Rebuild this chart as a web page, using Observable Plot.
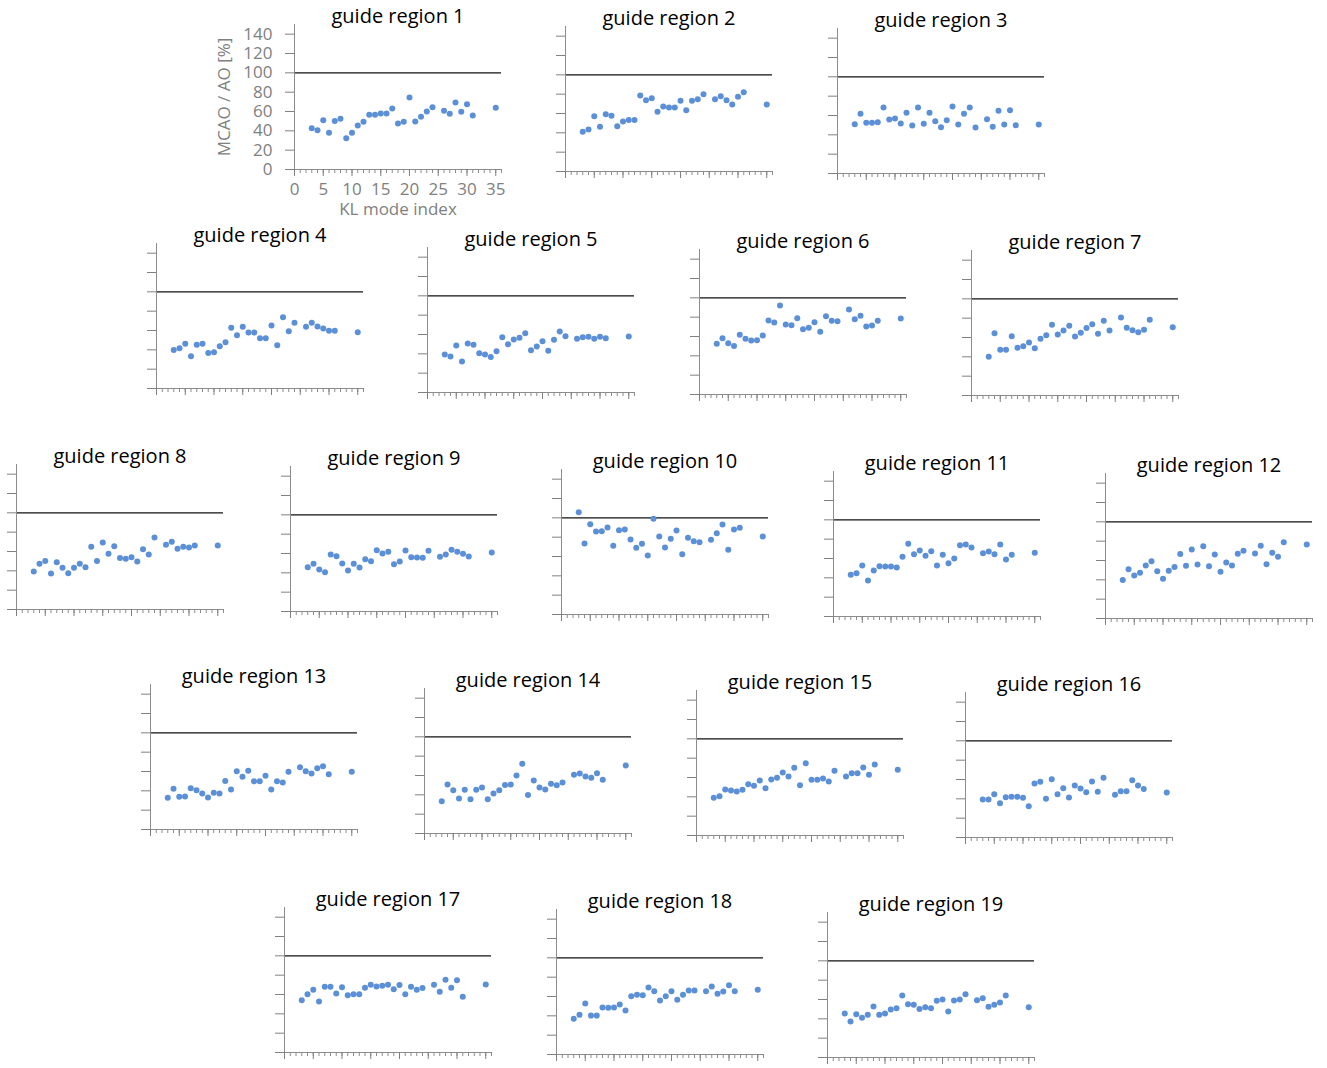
<!DOCTYPE html>
<html><head><meta charset="utf-8">
<script src="https://cdn.jsdelivr.net/npm/d3@7"></script>
<script src="https://cdn.jsdelivr.net/npm/@observablehq/plot@0.6"></script>
<style>
html,body{margin:0;padding:0;background:#fff;}
#root{position:relative;width:1327px;height:1068px;overflow:hidden;font-family:"Open Sans",sans-serif;}
.panel{position:absolute;}
</style></head><body><div id="root"></div>
<script>
// KL mode indices (shared by all guide regions)
const modes = [3,4,5,6,7,8,9,10,11,12,13,14,15,16,17,18,19,20,21,22,23,24,26,27,28,29,30,31,35];

// MCAO / AO [%] per guide region
const region1  = [42.8,40.7,51.0,37.9,50.3,52.4,32.4,37.9,45.5,49.3,56.6,56.6,57.9,57.9,63.1,47.6,49.3,74.5,49.7,54.5,60.0,64.5,60.7,57.6,69.3,59.7,67.6,55.9,63.8];
const region2  = [41.0,43.4,57.2,46.2,59.3,57.6,46.9,51.7,53.4,53.4,78.6,73.8,75.9,61.7,67.2,66.2,66.2,73.1,63.4,73.1,74.8,80.0,74.8,77.9,73.8,69.3,77.2,82.1,69.3];
const region3  = [51.0,61.7,52.4,52.4,53.1,68.3,55.9,56.9,51.7,62.8,49.7,68.3,51.4,62.8,54.1,47.9,55.2,69.3,50.7,61.7,68.3,47.6,56.2,48.3,64.8,50.7,65.5,50.0,50.7];
const region4  = [39.7,41.7,46.2,33.4,45.2,46.2,36.6,37.6,43.8,47.9,62.8,55.2,63.8,57.9,57.9,52.1,52.1,65.2,44.8,73.8,59.3,67.9,63.8,67.9,64.1,62.1,59.7,59.7,58.3];
const region5  = [39.3,37.2,48.6,32.1,50.7,49.3,40.7,39.3,36.6,42.8,57.2,50.0,54.8,56.6,61.4,43.8,47.6,53.1,43.1,54.5,63.1,58.3,55.5,57.2,57.6,55.5,57.6,56.2,57.9];
const region6  = [52.4,58.3,53.1,50.3,61.7,57.6,55.9,56.2,61.0,76.6,74.5,92.1,72.4,71.7,79.0,67.6,69.0,74.8,64.8,81.0,76.2,75.9,87.9,77.9,81.4,70.3,71.4,76.2,78.6];
const region7  = [40.0,64.5,47.2,47.2,61.4,49.3,51.0,54.8,49.0,58.6,62.4,73.1,63.1,67.2,72.1,61.0,64.8,69.7,73.8,63.8,77.2,67.2,80.7,70.0,67.6,65.5,67.9,78.3,70.7];
const region8  = [39.3,47.2,50.3,37.2,49.0,43.1,37.6,43.1,47.2,43.8,64.8,50.3,69.3,57.6,65.5,53.4,52.4,54.1,49.7,62.4,56.9,74.5,66.9,70.0,62.8,64.8,64.1,66.2,66.2];
const region9  = [45.9,49.3,43.4,40.7,59.0,57.2,49.7,42.4,49.3,45.5,54.1,52.1,63.4,60.0,61.7,49.0,51.7,63.1,56.2,55.9,55.5,62.8,56.6,59.0,63.8,61.7,59.7,56.9,61.0];
const region10 = [105.9,73.4,93.4,85.9,86.2,90.0,71.0,87.2,87.9,77.6,69.0,73.1,61.0,99.0,80.7,69.3,78.3,86.9,62.4,79.3,75.9,74.8,77.2,84.1,93.1,66.9,87.9,89.7,80.7];
const region11 = [43.1,44.8,52.8,37.2,47.6,52.1,51.7,51.7,50.7,61.7,75.2,64.5,68.3,62.8,67.6,52.8,63.8,55.2,60.0,73.8,74.5,71.4,65.5,67.2,64.5,74.5,59.0,63.8,65.9];
const region12 = [39.7,51.0,44.5,47.2,54.8,59.3,48.9,41.0,49.3,53.4,66.6,54.5,71.4,55.9,74.8,54.1,66.2,48.3,57.9,54.8,66.9,70.0,67.2,75.2,56.2,67.9,63.8,79.0,76.6];
const region13 = [32.8,42.1,33.8,34.1,42.8,40.7,37.2,33.1,37.9,37.2,50.3,41.4,60.3,54.5,60.7,50.0,50.0,55.5,41.4,50.0,48.6,59.7,64.5,60.3,57.9,63.4,65.5,57.2,59.7];
const region14 = [33.4,50.7,44.8,36.2,45.2,35.5,45.2,47.6,35.5,41.4,44.8,50.3,50.7,60.0,72.1,39.7,54.8,47.6,45.5,51.4,50.0,52.8,60.7,62.1,59.0,57.6,62.4,55.5,70.3];
const region15 = [39.0,40.7,47.6,46.6,45.5,47.2,53.1,51.4,56.9,49.0,57.9,59.7,65.2,61.0,70.0,52.1,74.8,57.6,57.6,59.0,55.9,66.9,61.0,64.5,64.5,70.3,62.8,73.4,67.9];
const region16 = [39.3,39.3,44.8,35.5,41.7,42.1,42.1,41.0,32.4,55.9,57.6,40.0,60.3,44.8,51.0,41.4,53.8,50.7,46.9,57.9,47.2,61.7,44.1,47.9,47.9,59.3,53.8,50.3,46.6];
const region17 = [54.1,60.3,64.8,52.8,67.9,67.9,61.0,67.6,59.3,60.3,60.3,66.9,70.0,68.3,69.0,70.0,65.5,69.7,60.3,67.9,64.8,66.6,70.0,62.8,75.2,66.9,74.8,57.6,70.3];
const region18 = [36.9,41.0,52.8,40.3,40.3,48.6,48.3,48.6,51.7,45.5,60.3,61.7,61.4,69.3,65.5,55.9,60.3,65.5,56.6,61.7,66.2,66.2,65.5,70.3,62.8,65.2,71.7,65.5,66.9];
const region19 = [45.5,37.2,44.8,41.0,44.1,52.8,44.1,45.5,49.7,51.0,64.1,55.2,54.5,50.3,52.1,51.0,58.6,60.0,47.6,59.0,60.0,65.5,59.3,61.4,52.4,54.5,56.9,64.1,52.1];

const regions = [region1,region2,region3,region4,region5,region6,region7,region8,region9,region10,
                 region11,region12,region13,region14,region15,region16,region17,region18,region19];
const titles = regions.map((_, i) => `guide region ${i + 1}`);
const yTicks = [0,20,40,60,80,100,120,140];
const xMajor = [0,5,10,15,20,25,30,35];
const xMinor = d3.range(0, 37);

// layout: plot-origin (x of y-axis, y of x-axis) of each panel on the page
const panelOrigins = [
  [293.7,169.3],[565,171.3],[836.7,173],
  [155.7,388.3],[427.3,391.7],[699.3,393.7],[970.7,395.3],
  [16,608.7],[289.7,610.7],[561,614.3],[832.7,616],[1104.7,617.7],
  [150.3,829.3],[423.7,833],[695.7,834.7],[965,836.7],
  [284,1052],[556,1053.7],[827,1057.3]
];

const W = 207, H = 145, ML = 90, MR = 12, MT = 30, MB = 50;
const axisColor = "#8c8c8c";
const textColor = "#808080";
const root = document.getElementById("root");

regions.forEach((vals, i) => {
  const data = modes.map((m, j) => ({mode: m, ratio: vals[j]}));
  const labelled = i === 0;
  const marks = [
    Plot.ruleY([100], {stroke: "#111", strokeWidth: 1.3}),
    Plot.ruleX([0], {stroke: axisColor}),
    Plot.ruleY([0], {stroke: axisColor}),
    Plot.axisY({ticks: yTicks, tickSize: 9, tickPadding: 13, color: textColor, fontSize: 17,
                tickFormat: labelled ? (d => d) : (() => ""), label: null}),
    Plot.axisX({ticks: xMinor, tickSize: 4, color: axisColor, tickFormat: () => "", label: null}),
    Plot.axisX({ticks: xMajor, tickSize: 7, tickPadding: 6, color: textColor, fontSize: 17,
                tickFormat: labelled ? (d => d) : (() => ""), label: null}),
    Plot.dot(data, {x: "mode", y: "ratio", r: 3, fill: "#5b8fd6", stroke: null}),
    Plot.text([titles[i]], {frameAnchor: "top", lineAnchor: "bottom", dy: -2, fontSize: 20, fill: "#000"})
  ];
  if (labelled) {
    marks.push(Plot.text(["MCAO / AO [%]"], {frameAnchor: "left", textAnchor: "middle", lineAnchor: "middle",
                                            rotate: -90, dx: -70, fontSize: 17, fill: textColor}));
    marks.push(Plot.text(["KL mode index"], {frameAnchor: "bottom", lineAnchor: "middle", dy: 40, fontSize: 17, fill: textColor}));
  }
  const chart = Plot.plot({
    width: ML + W + MR, height: MT + H + MB,
    marginLeft: ML, marginRight: MR, marginTop: MT, marginBottom: MB,
    x: {domain: [0, 36]}, y: {domain: [0, 150]},
    style: {background: "none", overflow: "visible", fontFamily: '"Open Sans", sans-serif', maxWidth: "none"},
    marks
  });
  const div = document.createElement("div");
  div.className = "panel";
  div.style.left = (panelOrigins[i][0] - ML) + "px";
  div.style.top = (panelOrigins[i][1] - MT - H) + "px";
  div.appendChild(chart);
  root.appendChild(div);
});
</script></body></html>
